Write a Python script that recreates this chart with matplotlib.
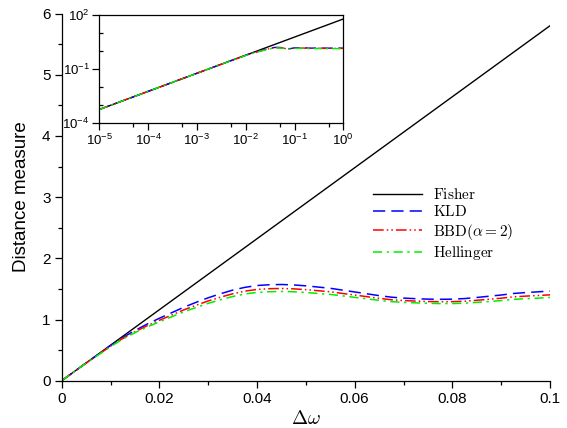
import matplotlib
matplotlib.use("Agg")
import matplotlib.pyplot as plt
from matplotlib.ticker import FixedLocator, NullFormatter, LogFormatterSciNotation, FuncFormatter
import numpy as np

plt.rcParams['font.family'] = ['Liberation Sans', 'DejaVu Sans']
plt.rcParams['mathtext.fontset'] = 'custom'
plt.rcParams['mathtext.rm'] = 'Liberation Sans'
plt.rcParams['mathtext.it'] = 'Liberation Sans:italic'
plt.rcParams['mathtext.bf'] = 'Liberation Sans:bold'

# ---- data ----
dw = [0, 0.0025, 0.005, 0.0075, 0.01, 0.0125, 0.015, 0.0175, 0.02, 0.0225,
      0.025, 0.0275, 0.03, 0.0325, 0.035, 0.0375, 0.04, 0.0425, 0.045, 0.0475,
      0.05, 0.0525, 0.055, 0.0575, 0.06, 0.0625, 0.065, 0.0675, 0.07, 0.0725,
      0.075, 0.0775, 0.08, 0.0825, 0.085, 0.0875, 0.09, 0.0925, 0.095, 0.0975, 0.1]
kld = [0, 0.145, 0.29, 0.43, 0.575, 0.705, 0.82, 0.925, 1.02, 1.11,
       1.20, 1.28, 1.355, 1.42, 1.48, 1.525, 1.555, 1.568, 1.572, 1.565,
       1.55, 1.53, 1.51, 1.48, 1.45, 1.42, 1.39, 1.365, 1.35, 1.34,
       1.333, 1.33, 1.332, 1.342, 1.36, 1.38, 1.40, 1.425, 1.44, 1.452, 1.465]
bbd = [0, 0.145, 0.288, 0.425, 0.565, 0.69, 0.80, 0.898, 0.987, 1.072,
       1.157, 1.232, 1.303, 1.364, 1.42, 1.463, 1.491, 1.503, 1.507, 1.501,
       1.488, 1.47, 1.453, 1.426, 1.40, 1.373, 1.346, 1.323, 1.31, 1.301,
       1.294, 1.29, 1.291, 1.299, 1.314, 1.331, 1.348, 1.37, 1.382, 1.392, 1.403]
hel = [0, 0.145, 0.286, 0.421, 0.557, 0.679, 0.785, 0.878, 0.962, 1.044,
       1.125, 1.196, 1.264, 1.322, 1.375, 1.417, 1.443, 1.454, 1.458, 1.453,
       1.442, 1.425, 1.41, 1.386, 1.362, 1.338, 1.313, 1.292, 1.28, 1.272,
       1.265, 1.26, 1.26, 1.267, 1.28, 1.294, 1.309, 1.329, 1.34, 1.349, 1.36]
fisher_x = [0, 0.1]
fisher_y = [0, 5.80]

# inset (log-log) data
inset_fisher_x = [1e-5, 1.0]
inset_fisher_y = [5.8e-4, 58.0]
small_x = [1e-5, 1e-4, 1e-3]
small_y = [5.8e-4, 5.8e-3, 0.058]
tail_x = [0.15, 0.2, 0.3, 0.5, 0.7, 1.0]
kld_tail = [1.50, 1.42, 1.44, 1.42, 1.43, 1.42]
bbd_tail = [1.44, 1.37, 1.39, 1.37, 1.38, 1.37]
hel_tail = [1.40, 1.33, 1.35, 1.33, 1.34, 1.33]

labels = [r'$\mathrm{Fisher}$', r'$\mathrm{KLD}$', r'$\mathrm{BBD}(\alpha = 2)$', r'$\mathrm{Hellinger}$']
colors = ['black', '#0000ff', '#ff0000', '#00ee00']
styles = ['-', (0, (8, 4)), (0, (7, 2, 1, 2, 1, 2)), (0, (6, 3, 1.5, 3))]

W, H = 567, 428
fig = plt.figure(figsize=(W / 100, H / 100), dpi=100)
ax = fig.add_axes([61.7 / W, 1 - 380.7 / H, (550 - 61.7) / W, (380.7 - 13.5) / H])

ax.plot(fisher_x, fisher_y, color=colors[0], ls=styles[0], lw=1.0, label=labels[0])
ax.plot(dw, kld, color=colors[1], ls=styles[1], lw=1.1, label=labels[1])
ax.plot(dw, bbd, color=colors[2], ls=styles[2], lw=1.1, label=labels[2])
ax.plot(dw, hel, color=colors[3], ls=styles[3], lw=1.1, label=labels[3])

ax.set_xlim(0, 0.1)
ax.set_ylim(0, 6)
ax.spines['top'].set_visible(False)
ax.spines['right'].set_visible(False)
ax.xaxis.set_major_locator(FixedLocator([0, 0.02, 0.04, 0.06, 0.08, 0.1]))
ax.xaxis.set_minor_locator(FixedLocator([0.01, 0.03, 0.05, 0.07, 0.09]))
ax.xaxis.set_major_formatter(FuncFormatter(lambda v, p: '%g' % round(v, 4)))
ax.yaxis.set_major_locator(FixedLocator([0, 1, 2, 3, 4, 5, 6]))
ax.yaxis.set_minor_locator(FixedLocator([0.5, 1.5, 2.5, 3.5, 4.5, 5.5]))
ax.tick_params(which='major', direction='out', length=5, width=0.9, labelsize=11, pad=3)
ax.tick_params(which='minor', direction='out', length=3, width=0.9)
ax.set_ylabel('Distance measure', fontsize=13.5, labelpad=9)
xl = ax.set_xlabel(r'$\Delta\omega$', fontsize=14, labelpad=3)
xl.set_math_fontfamily('cm')

leg = fig.legend(loc='upper left', bbox_to_anchor=(373 / W, 1 - 187 / H),
                 frameon=False, fontsize=11, handlelength=3.2, handletextpad=0.7,
                 labelspacing=0.15, borderpad=0, borderaxespad=0)
for t in leg.get_texts():
    t.set_math_fontfamily('cm')

# inset
ins = fig.add_axes([99.3 / W, 1 - 123.3 / H, (343.3 - 99.3) / W, (123.3 - 14.7) / H])
ins.plot(inset_fisher_x, inset_fisher_y, color=colors[0], lw=1.0)
ins.plot(small_x + dw[1:] + tail_x, small_y + kld[1:] + kld_tail, color=colors[1], ls=styles[1], lw=1.0)
ins.plot(small_x + dw[1:] + tail_x, small_y + bbd[1:] + bbd_tail, color=colors[2], ls=styles[2], lw=1.0)
ins.plot(small_x + dw[1:] + tail_x, small_y + hel[1:] + hel_tail, color=colors[3], ls=styles[3], lw=1.0)
ins.set_xscale('log')
ins.set_yscale('log')
ins.set_xlim(1e-5, 1)
ins.set_ylim(1e-4, 1e2)
ins.xaxis.set_major_locator(FixedLocator([1e-5, 1e-4, 1e-3, 1e-2, 1e-1, 1]))
ins.xaxis.set_minor_locator(FixedLocator([5e-5, 5e-4, 5e-3, 5e-2, 5e-1]))
ins.xaxis.set_major_formatter(LogFormatterSciNotation())
ins.xaxis.set_minor_formatter(NullFormatter())
ins.yaxis.set_major_locator(FixedLocator([1e-4, 1e-1, 1e2]))
ins.yaxis.set_minor_locator(FixedLocator([1e-3, 1e-2, 1e0, 1e1]))
ins.yaxis.set_major_formatter(LogFormatterSciNotation())
ins.yaxis.set_minor_formatter(NullFormatter())
ins.tick_params(axis='x', which='major', direction='out', length=5, width=0.9, labelsize=9.5, pad=2)
ins.tick_params(axis='x', which='minor', direction='out', length=3, width=0.9)
ins.tick_params(axis='y', which='major', direction='out', length=5, width=0.9, labelsize=9.5, pad=2)
ins.tick_params(axis='y', which='minor', direction='in', length=3, width=0.9)
for s in ins.spines.values():
    s.set_linewidth(0.9)
for s in ax.spines.values():
    s.set_linewidth(0.9)

fig.savefig('out.png', dpi=100)
